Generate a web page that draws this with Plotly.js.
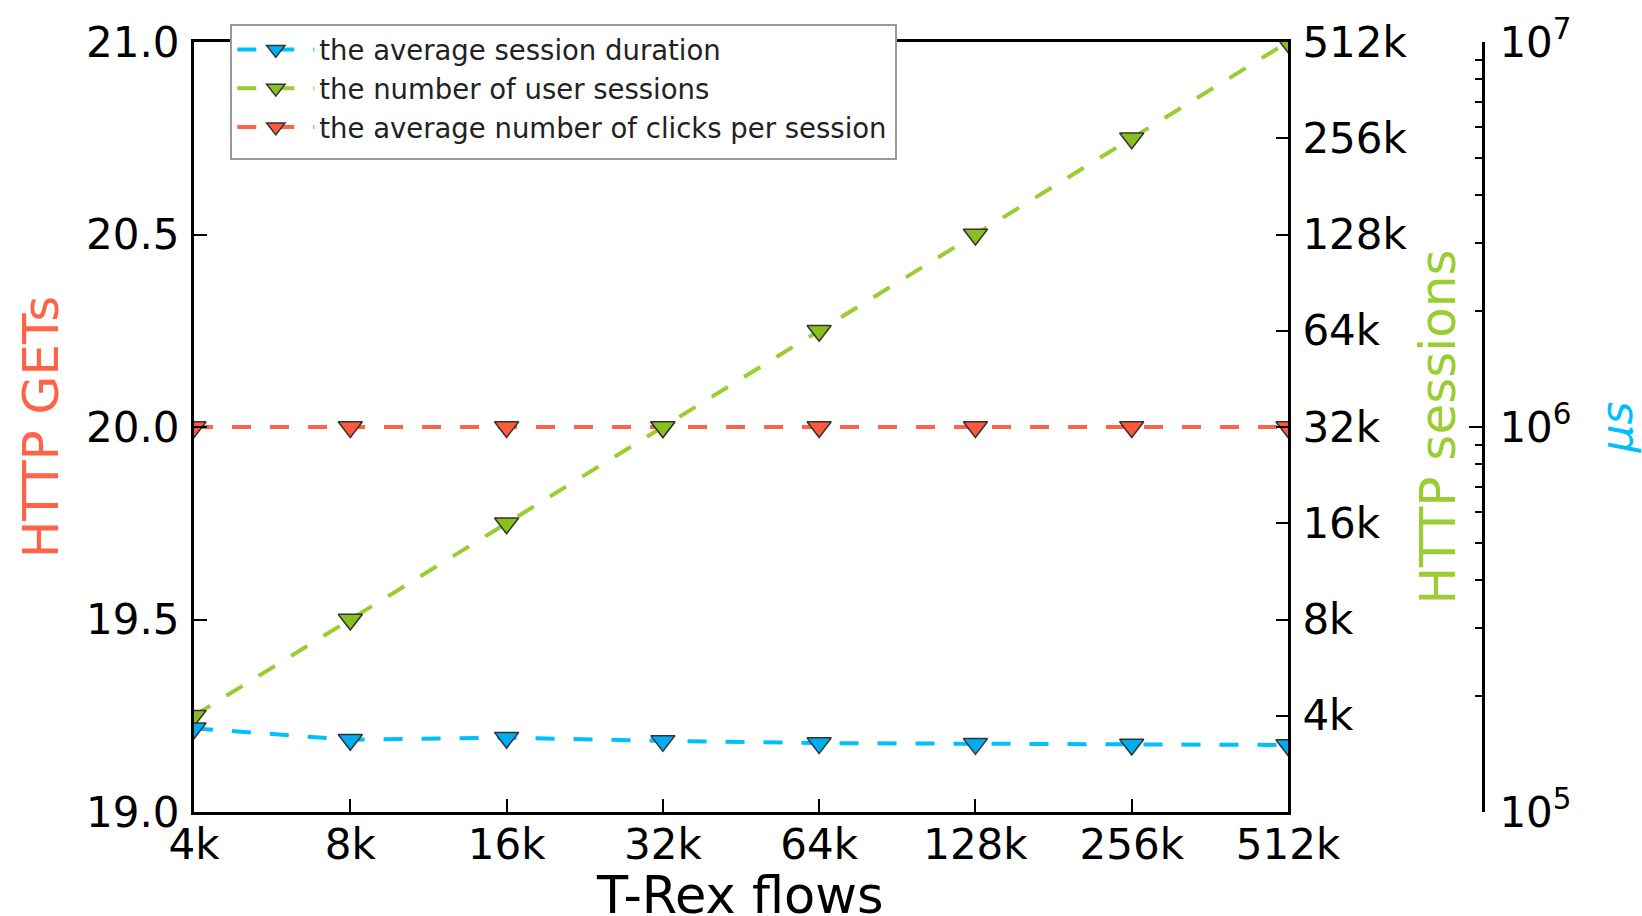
<!DOCTYPE html>
<html>
<head>
<meta charset="utf-8">
<script src="https://cdn.plot.ly/plotly-3.0.1.min.js"></script>
<style>html,body{margin:0;padding:0;background:#fff;}#chart{width:1642px;height:916px;}</style>
</head>
<body>
<div id="chart"></div>
<script>
// ---- data ----
const flows = [4096, 8192, 16384, 32768, 65536, 131072, 262144, 524288];
const flowLabels = ['4k', '8k', '16k', '32k', '64k', '128k', '256k', '512k'];
const sessionDurationUs = [165000, 154000, 156000, 153000, 151000, 150300, 149800, 149300];
const userSessions = [4096, 8192, 16384, 32768, 65536, 131072, 262144, 524288];
const clicksPerSession = [20, 20, 20, 20, 20, 20, 20, 20];
const getsTickVals = [19, 19.5, 20, 20.5, 21];
const getsTickText = ['19.0', '19.5', '20.0', '20.5', '21.0'];
const sessionTickVals = [4096, 8192, 16384, 32768, 65536, 131072, 262144, 524288];
const sessionTickText = ['4k', '8k', '16k', '32k', '64k', '128k', '256k', '512k'];
const usTickVals = [1e5, 1e6, 1e7];
const usTickText = ['10<sup>5</sup>', '10<sup>6</sup>', '10<sup>7</sup>'];
const usMinorVals = [2e5,3e5,4e5,5e5,6e5,7e5,8e5,9e5,2e6,3e6,4e6,5e6,6e6,7e6,8e6,9e6];

const FONT = 'DejaVu Sans, Verdana, sans-serif';
const markerLine = {color: '#333333', width: 1.5};
const MSIZE = 21;

const traces = [
  {
    x: flows, y: sessionDurationUs, yaxis: 'y3', name: 'the average session duration',
    mode: 'lines+markers', type: 'scatter',
    line: {color: '#00BFFF', width: 4, dash: '19px,19px'},
    marker: {symbol: 'triangle-down', size: MSIZE, color: '#00AEEF', line: markerLine}
  },
  {
    x: flows, y: userSessions, yaxis: 'y2', name: 'the number of user sessions',
    mode: 'lines+markers', type: 'scatter',
    line: {color: '#9ACD32', width: 4, dash: '19px,19px'},
    marker: {symbol: 'triangle-down', size: MSIZE, color: '#88C020', line: markerLine}
  },
  {
    x: flows, y: clicksPerSession, yaxis: 'y', name: 'the average number of clicks per session',
    mode: 'lines+markers', type: 'scatter',
    line: {color: '#FF6347', width: 4, dash: '19px,19px'},
    marker: {symbol: 'triangle-down', size: MSIZE, color: '#FF5A3C', line: markerLine}
  }
];

const plotW = 1483 - 194;
const plotH = 812 - 42;
const legX0 = (231 - 194) / plotW, legX1 = (896 - 194) / plotW;
const legY0 = 1 - (159 - 42) / plotH, legY1 = 1 + (42 - 25) / plotH;

const layout = {
  width: 1642, height: 916,
  margin: {l: 194, r: 1642 - 1483, t: 42, b: 104, pad: 0},
  paper_bgcolor: '#ffffff', plot_bgcolor: '#ffffff',
  font: {family: FONT, color: '#000000', size: 42},
  showlegend: true,
  legend: {
    x: legX0 + 0.001, y: legY1 + 0.0, xanchor: 'left', yanchor: 'top',
    bgcolor: 'rgba(0,0,0,0)', borderwidth: 0,
    font: {family: FONT, size: 27.5, color: '#222222'},
    itemwidth: 77, tracegroupgap: 0
  },
  shapes: [
    {type: 'rect', xref: 'paper', yref: 'paper', x0: legX0, x1: legX1, y0: legY0, y1: legY1,
     fillcolor: '#ffffff', line: {color: '#999999', width: 2}, layer: 'above'}
  ],
  annotations: [
    {text: 'T-Rex flows', xref: 'paper', yref: 'paper',
     x: (740 - 194) / plotW, y: (812 - 895) / plotH, xanchor: 'center', yanchor: 'middle',
     showarrow: false, font: {family: FONT, size: 51, color: '#000000'}}
  ],
  xaxis: {
    type: 'log', domain: [0, (1288 - 194) / plotW],
    range: [Math.log10(4096), Math.log10(524288)],
    tickmode: 'array', tickvals: flows, ticktext: flowLabels,
    ticks: 'inside', ticklen: 13, tickwidth: 2, tickcolor: '#000',
    showline: true, linecolor: '#000', linewidth: 3, mirror: true,
    showgrid: false, zeroline: false, ticklabelstandoff: -6,
    tickfont: {size: 42}
  },
  yaxis: {
    range: [19, 21], tickmode: 'array', tickvals: getsTickVals, ticktext: getsTickText,
    ticks: 'inside', ticklen: 13, tickwidth: 2, tickcolor: '#000',
    showline: true, linecolor: '#000', linewidth: 3,
    showgrid: false, zeroline: false, ticklabelstandoff: 3,
    tickfont: {size: 42},
    title: {text: 'HTTP GETs', font: {size: 50, color: '#FF6347'}, standoff: 12}
  },
  yaxis2: {
    type: 'log', overlaying: 'y', side: 'right', anchor: 'x',
    range: [Math.log10(2048), Math.log10(524288)],
    tickmode: 'array', tickvals: sessionTickVals, ticktext: sessionTickText,
    ticks: 'inside', ticklen: 12, tickwidth: 2, tickcolor: '#000',
    showline: true, linecolor: '#000', linewidth: 3,
    showgrid: false, zeroline: false, ticklabelstandoff: 3,
    tickfont: {size: 42},
    title: {text: 'HTTP sessions', font: {size: 50, color: '#9ACD32'}, standoff: 14}
  },
  yaxis3: {
    type: 'log', overlaying: 'y', side: 'right', anchor: 'free', position: 1,
    range: [5, 7],
    tickmode: 'array', tickvals: usTickVals, ticktext: usTickText,
    ticks: 'inside', ticklen: 13, tickwidth: 2, tickcolor: '#000',
    minor: {ticks: 'inside', ticklen: 7, tickwidth: 2, tickcolor: '#000', tickmode: 'array', tickvals: usMinorVals},
    showline: true, linecolor: '#000', linewidth: 3,
    showgrid: false, zeroline: false, ticklabelstandoff: 6,
    tickfont: {size: 42},
    title: {text: '<i>μs</i>', font: {size: 44, color: '#00BFFF'}, standoff: 30}
  }
};

Plotly.newPlot('chart', traces, layout, {displayModeBar: false, staticPlot: true});
</script>
</body>
</html>
